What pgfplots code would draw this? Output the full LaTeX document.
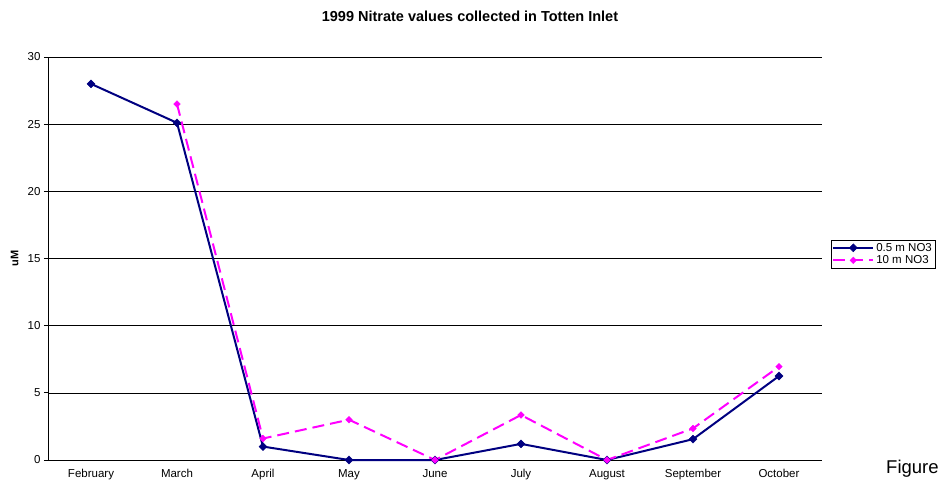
\documentclass[border=0pt]{standalone}
\usepackage{fontspec}
\setmainfont{Liberation Sans}
\usepackage{pgfplots}
\pgfplotsset{compat=1.18}
\definecolor{navyc}{RGB}{0,0,128}
\definecolor{magc}{RGB}{255,0,255}
\begin{document}
\begin{tikzpicture}[x=1pt,y=1pt]
\useasboundingbox (0,0) rectangle (939,485);
\begin{axis}[
  at={(48pt,25pt)}, anchor=south west,
  scale only axis, width=774pt, height=403pt,
  xmin=-0.5, xmax=8.5, ymin=0, ymax=30,
  axis x line=bottom, axis y line=left,
  axis line style={-, black, line width=0.7pt},
  xtick={0,...,8},
  xticklabels={February,March,April,May,June,July,August,September,October},
  x tick style={draw=none},
  extra x ticks={-0.5,0.5,1.5,2.5,3.5,4.5,5.5,6.5,7.5,8.5},
  extra x tick labels={},
  extra x tick style={major tick length=4pt, tick style={black, line width=0.7pt}, grid=none},
  ytick={0,5,...,30},
  tick align=outside,
  major tick length=4pt,
  y tick style={black, line width=0.7pt},
  ymajorgrids,
  major grid style={black, line width=0.6pt},
  ticklabel style={font=\fontsize{11.5}{13}\selectfont},
  xticklabel style={yshift=-2pt},
  /pgf/number format/assume math mode=true,
  ylabel={uM},
  every axis y label/.style={at={(axis description cs:-0.043,0.5)}, rotate=90, anchor=center, font=\bfseries\fontsize{11}{13}\selectfont},
  clip=false,
  legend style={at={(1.0116,0.511)}, anchor=west, draw=black, line width=0.6pt,
    font=\fontsize{11.5}{13}\selectfont, inner sep=1pt, row sep=-1pt,
    cells={anchor=west}},
  legend image code/.code={
    \draw[mark repeat=2,mark phase=2] plot coordinates {(0pt,0pt) (20pt,0pt) (40pt,0pt)};},
]
\addplot[navyc, line width=2pt, mark=square*, mark size=2.8pt, mark options={solid, fill=navyc, line width=0.5pt, rotate=45}]
  coordinates {(0,28.0)(1,25.1)(2,1.0)(3,0)(4,0)(5,1.2)(6,0)(7,1.55)(8,6.25)};
\addlegendentry{0.5 m NO3}
\addplot[magc, line width=2pt, dash pattern=on 12pt off 6pt, mark=square*, mark size=2.3pt, mark options={solid, fill=magc, line width=0.5pt, rotate=45}]
  coordinates {(1,26.5)(2,1.6)(3,3.0)(4,0)(5,3.35)(6,0)(7,2.35)(8,6.95)};
\addlegendentry{10 m NO3}
\end{axis}
\node[font=\bfseries\fontsize{14.5}{16}\selectfont] at (470,469) {1999 Nitrate values collected in Totten Inlet};
\node[font=\fontsize{18.5}{20}\selectfont, anchor=west, inner sep=0pt] at (886,16) {Figure};
\end{tikzpicture}
\end{document}
